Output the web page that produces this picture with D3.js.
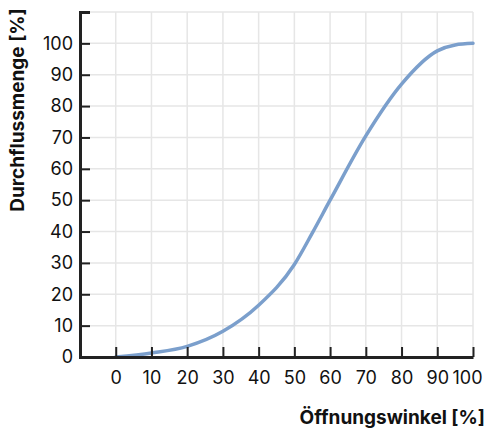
<!DOCTYPE html>
<html><head><meta charset="utf-8">
<script src="https://cdn.jsdelivr.net/npm/d3@7"></script>
<style>
body{margin:0;background:#fff;}
svg{display:block;font-family:Inter,"Noto Sans",sans-serif;}
</style></head>
<body><svg id="c" width="489" height="430"></svg>
<script>
const angle = [0, 10, 20, 30, 40, 50, 55, 60, 70, 80, 90, 95, 100];
const flow  = [0, 1.3, 3.4, 8.2, 16.5, 29.5, 39.5, 50, 70.5, 87, 97.6, 99.5, 100];
const xTicks = [0, 10, 20, 30, 40, 50, 60, 70, 80, 90, 100];
const yTicks = [0, 10, 20, 30, 40, 50, 60, 70, 80, 90, 100];
const yGrid = [10, 20, 30, 40, 50, 60, 70, 80, 90, 100, 110];
const xLabel = "Öffnungswinkel [%]";
const yLabel = "Durchflussmenge [%]";

const svg = d3.select("#c");
const x = d3.scaleLinear().domain([-10, 100]).range([80, 473]);
const y = d3.scaleLinear().domain([0, 110]).range([357, 12]);

// grid
svg.append("g").selectAll("line").data(xTicks).join("line")
  .attr("x1", d => x(d)).attr("x2", d => x(d))
  .attr("y1", y(110)).attr("y2", y(0))
  .attr("stroke", "#e6e6e6").attr("stroke-width", 1.5);
svg.append("g").selectAll("line").data(yGrid).join("line")
  .attr("x1", x(-10)).attr("x2", x(100))
  .attr("y1", d => y(d)).attr("y2", d => y(d))
  .attr("stroke", "#e6e6e6").attr("stroke-width", 1.5);

// curve
const line = d3.line().x((d, i) => x(angle[i])).y(d => y(d)).curve(d3.curveMonotoneX);
svg.append("path").datum(flow).attr("d", line)
  .attr("fill", "none").attr("stroke", "#7b9fcc").attr("stroke-width", 3.5)
  .attr("stroke-linecap", "round");

// axes
const xa = svg.append("g").attr("transform", `translate(0,${y(0)})`)
  .call(d3.axisBottom(x).tickValues(xTicks).tickSize(-10).tickSizeOuter(0).tickPadding(14));
const ya = svg.append("g").attr("transform", `translate(${x(-10)},0)`)
  .call(d3.axisLeft(y).tickValues(yTicks).tickSize(-10).tickSizeOuter(-10).tickPadding(7));
[xa, ya].forEach(g => {
  g.select(".domain").attr("stroke", "#222").attr("stroke-width", 3);
  g.selectAll(".tick line").attr("stroke", "#222").attr("stroke-width", 2);
  g.selectAll(".tick text").attr("fill", "#111").style("font-size", "18px")
    .style("font-family", "Inter,'Noto Sans',sans-serif");
});
xa.selectAll(".tick text").filter(d => d === 100).attr("dx", "-6");

// labels
svg.append("text").attr("x", 485).attr("y", 424).attr("text-anchor", "end")
  .style("font-size", "19px").style("font-weight", "700").attr("fill", "#111").text(xLabel);
svg.append("text").attr("transform", "translate(24,110) rotate(-90)").attr("text-anchor", "middle")
  .style("font-size", "19px").style("font-weight", "700").attr("fill", "#111").text(yLabel);
</script></body></html>
